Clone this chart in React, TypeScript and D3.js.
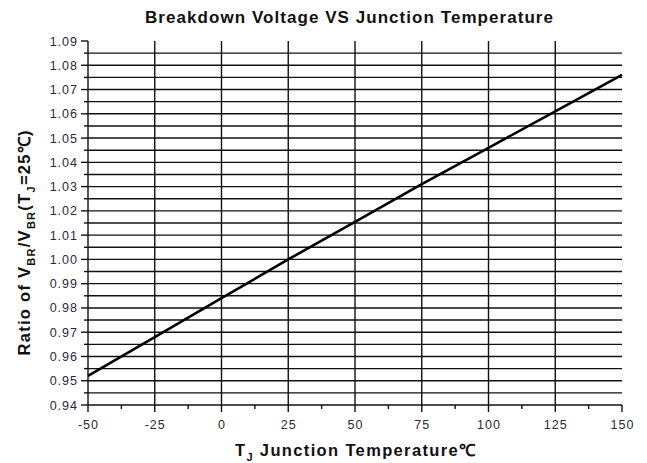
import React from "react";
import * as d3 from "d3";

const temps = [-50, -25, 0, 25, 50, 75, 100, 125, 150];
const ratios = [0.952, 0.968, 0.984, 1.0, 1.0155, 1.031, 1.046, 1.061, 1.076];
const xTicks = [-50, -25, 0, 25, 50, 75, 100, 125, 150];
const yTicks = [0.94, 0.95, 0.96, 0.97, 0.98, 0.99, 1.0, 1.01, 1.02, 1.03, 1.04, 1.05, 1.06, 1.07, 1.08, 1.09];
const yMinor = d3.range(0, 30).map((i) => 0.945 + i * 0.01).filter((v) => v < 1.09);
const xMinor = [-37.5, -12.5, 12.5, 37.5, 62.5, 87.5, 112.5, 137.5];

const W = 647;
const H = 463;

export default function App() {
  const x = d3.scaleLinear().domain([-50, 150]).range([88, 622]);
  const y = d3.scaleLinear().domain([0.94, 1.09]).range([405, 41]);
  const line = d3
    .line<number>()
    .x((_, i) => x(temps[i]))
    .y((d) => y(d));
  const font = "Arial, 'Liberation Sans', sans-serif";
  const gridColor = "#111";
  const gw = 1.4;
  const gridY = [...yTicks.filter((v) => v > 0.94 && v < 1.09), ...yMinor];
  return (
    <svg width={W} height={H} style={{ position: "absolute", left: 0, top: 0, background: "#fff" }}>
      <rect x={0} y={0} width={W} height={H} fill="#fff" />
      <text x={349} y={23} textAnchor="middle" fontFamily={font} fontWeight="bold" fontSize={17} fill="#111" textLength={408} lengthAdjust="spacing">
        Breakdown Voltage VS Junction Temperature
      </text>
      {/* horizontal grid */}
      {gridY.map((v) => (
        <line key={"h" + v} x1={x(-50)} x2={x(150)} y1={y(v)} y2={y(v)} stroke={gridColor} strokeWidth={gw} />
      ))}
      {/* y ticks */}
      {yTicks.map((v) => (
        <line key={"yt" + v} x1={x(-50) - 7} x2={x(-50)} y1={y(v)} y2={y(v)} stroke={gridColor} strokeWidth={gw} />
      ))}
      {yMinor.map((v) => (
        <line key={"ym" + v} x1={x(-50) - 4} x2={x(-50)} y1={y(v)} y2={y(v)} stroke={gridColor} strokeWidth={gw} />
      ))}
      {/* vertical grid & x ticks */}
      {xTicks.map((v) => (
        <line key={"v" + v} x1={x(v)} x2={x(v)} y1={v === 150 ? y(0.94) : y(1.09)} y2={y(0.94) + 7} stroke={gridColor} strokeWidth={gw} />
      ))}
      {xMinor.map((v) => (
        <line key={"xm" + v} x1={x(v)} x2={x(v)} y1={y(0.94)} y2={y(0.94) + 4} stroke={gridColor} strokeWidth={gw} />
      ))}
      {/* bottom axis */}
      <line x1={x(-50)} x2={x(150)} y1={y(0.94)} y2={y(0.94)} stroke={gridColor} strokeWidth={gw} />
      {/* data line */}
      <path d={line(ratios) || ""} fill="none" stroke="#000" strokeWidth={2.6} />
      {/* y labels */}
      {yTicks.map((v) => (
        <text key={"yl" + v} x={x(-50) - 10} y={y(v) + 4.5} textAnchor="end" fontFamily={font} fontSize={12.5} letterSpacing={1} fill="#2a2a3a">
          {v.toFixed(2)}
        </text>
      ))}
      {/* x labels */}
      {xTicks.map((v) => (
        <text key={"xl" + v} x={x(v) + 0.5} y={429} textAnchor="middle" fontFamily={font} fontSize={12.5} letterSpacing={1} fill="#2a2a3a">
          {String(v)}
        </text>
      ))}
      {/* x axis title */}
      <text x={355} y={456} textAnchor="middle" fontFamily={font} fontWeight="bold" fontSize={16.5} fill="#111" textLength={240} lengthAdjust="spacing">
        <tspan>T</tspan>
        <tspan fontSize={11} dy={5}>J</tspan>
        <tspan dy={-5}> Junction Temperature℃</tspan>
      </text>
      {/* y axis title */}
      <text transform="translate(30,243) rotate(-90)" textAnchor="middle" fontFamily={font} fontWeight="bold" fontSize={16.5} fill="#111" textLength={225} lengthAdjust="spacing">
        <tspan>Ratio of V</tspan>
        <tspan fontSize={11} dy={5}>BR</tspan>
        <tspan dy={-5}>/V</tspan>
        <tspan fontSize={11} dy={5}>BR</tspan>
        <tspan dy={-5}>(T</tspan>
        <tspan fontSize={11} dy={5}>J</tspan>
        <tspan dy={-5}>=25℃)</tspan>
      </text>
    </svg>
  );
}
